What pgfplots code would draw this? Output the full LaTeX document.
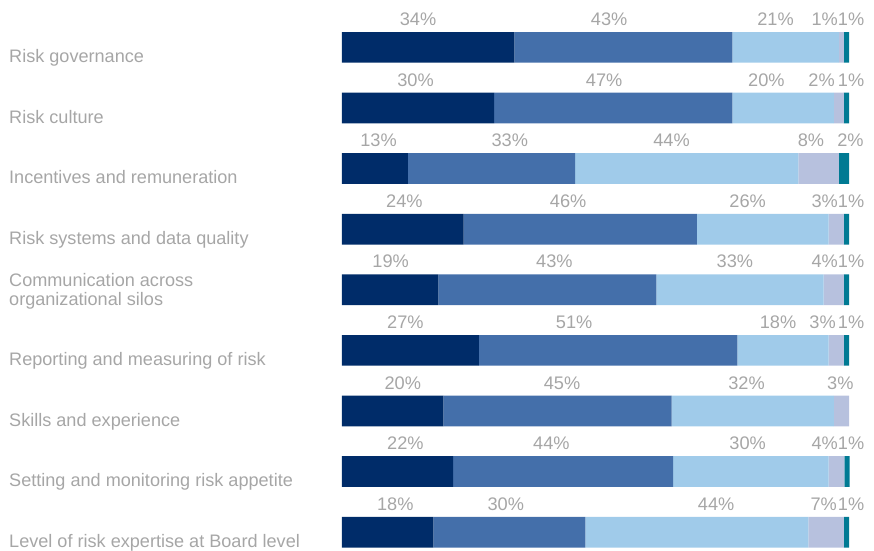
\documentclass[border=0pt]{standalone}
\usepackage{pgfplots}
\pgfplotsset{compat=1.18}
\usepackage{pgfplotstable}
\usepackage{fontspec}
\setmainfont{Liberation Sans}
\definecolor{c1}{RGB}{0,44,105}
\definecolor{c2}{RGB}{68,111,170}
\definecolor{c3}{RGB}{160,203,234}
\definecolor{c4}{RGB}{183,193,222}
\definecolor{c5}{RGB}{0,122,147}
\definecolor{txt}{RGB}{166,166,166}

\pgfplotstableread{
row a b c d e
0 34 43 21 1 1
1 30 47 20 2 1
2 13 33 44 8 2
3 24 46 26 3 1
4 19 43 33 4 1
5 27 51 18 3 1
6 20 45 32 3 0
7 21.9 43.4 30.7 3.1 1.0
8 18 30 44 7 1
}\data

\pgfplotstableread{
x y v
15.0 0 34
52.7 0 43
85.5 0 21
95.2 0 1
100.4 0 1
14.5 1 30
51.7 1 47
83.7 1 20
94.6 1 2
100.4 1 1
7.2 2 13
33.1 2 33
65.0 2 44
92.5 2 8
100.3 2 2
12.3 3 24
44.6 3 46
80.0 3 26
95.2 3 3
100.4 3 1
9.6 4 19
41.9 4 43
77.5 4 33
95.2 4 4
100.4 4 1
12.5 5 27
45.8 5 51
86.0 5 18
94.8 5 3
100.4 5 1
12.0 6 20
43.4 6 45
79.8 6 32
98.3 6 3
12.5 7 22
41.3 7 44
80.0 7 30
95.2 7 4
100.4 7 1
10.5 8 18
32.3 8 30
73.8 8 44
95.0 8 7
100.4 8 1
}\labels

\newcommand{\lblfont}{\fontsize{18.1bp}{18bp}\selectfont}
\newcommand{\pctfont}{\fontsize{18.2bp}{18bp}\selectfont}

\begin{document}
\begin{tikzpicture}
\pgfplotsset{geom/.style={
  at={(0,0)}, anchor=south west,
  scale only axis, width=507bp, height=484.85bp,
  xmin=0, xmax=100, ymin=0, ymax=8, y dir=reverse,
  clip=false,
}}
\begin{axis}[geom,
  xbar stacked, bar width=30.7bp,
  axis x line=none, axis y line*=left, y axis line style={draw=none},
  ytick={0,...,8}, major tick length=0pt,
  yticklabels={Risk governance, Risk culture, Incentives and remuneration,
    Risk systems and data quality,
    {\begin{tabular}[b]{@{}l@{}}Communication across\\organizational silos\end{tabular}},
    Reporting and measuring of risk, Skills and experience,
    Setting and monitoring risk appetite, Level of risk expertise at Board level},
  yticklabel style={anchor=base west, xshift=-333bp, yshift=-15.35bp,
    font=\lblfont, text=txt, inner sep=0pt},
]
\addplot[fill=c1, draw=none] table[x=a, y=row]{\data};
\addplot[fill=c2, draw=none] table[x=b, y=row]{\data};
\addplot[fill=c3, draw=none] table[x=c, y=row]{\data};
\addplot[fill=c4, draw=none] table[x=d, y=row]{\data};
\addplot[fill=c5, draw=none] table[x=e, y=row]{\data};
\end{axis}
\begin{axis}[geom, hide axis]
\addplot[draw=none, mark=none, nodes near coords={\pgfplotspointmeta\%},
  point meta=explicit symbolic,
  nodes near coords style={anchor=base, yshift=21.85bp, font=\pctfont, text=txt, inner sep=0pt}]
  table[x=x, y=y, meta=v]{\labels};
\end{axis}
\pgfresetboundingbox
\path[use as bounding box] (-342bp,-18.8bp) rectangle (532bp,532.2bp);
\end{tikzpicture}
\end{document}
